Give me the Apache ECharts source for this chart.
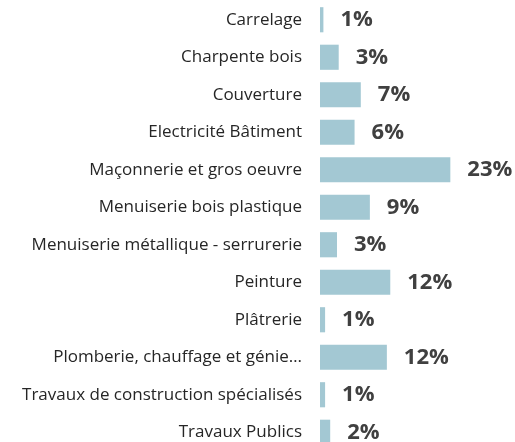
<!DOCTYPE html>
<html>
<head>
<meta charset="utf-8">
<script src="https://cdn.jsdelivr.net/npm/echarts@6/dist/echarts.min.js"></script>
<style>
  html, body { margin: 0; padding: 0; background: #fff; }
  #chart { width: 515px; height: 442px; }
</style>
</head>
<body>
<div id="chart"></div>
<script>
// Share of establishments by trade (percent)
const categories = [
  'Carrelage',
  'Charpente bois',
  'Couverture',
  'Electricité Bâtiment',
  'Maçonnerie et gros oeuvre',
  'Menuiserie bois plastique',
  'Menuiserie métallique - serrurerie',
  'Peinture',
  'Plâtrerie',
  'Plomberie, chauffage et génie climatique',
  'Travaux de construction spécialisés',
  'Travaux Publics'
];
const shares = [0.6, 3.3, 7.2, 6.1, 23.0, 8.8, 3.0, 12.4, 0.9, 11.8, 0.9, 1.8];

// Long trade names are cut after 29 characters
const shortName = v => v.length > 36 ? v.slice(0, 29).trimEnd() + '…' : v;

const chart = echarts.init(document.getElementById('chart'));
chart.setOption({
  animation: false,
  grid: {
    left: 320, top: 1, width: 170, height: 450,
    containLabel: false, outerBoundsMode: 'none'
  },
  xAxis: {
    type: 'value', min: 0, max: 30,
    show: false
  },
  yAxis: {
    type: 'category',
    inverse: true,
    data: categories,
    axisLine: { show: false },
    axisTick: { show: false },
    axisLabel: {
      margin: 18,
      fontFamily: 'Open Sans',
      fontSize: 17,
      color: '#262626',
      overflow: 'none',
      hideOverlap: false,
      interval: 0,
      formatter: shortName
    }
  },
  series: [{
    type: 'bar',
    data: shares,
    barWidth: '67%',
    itemStyle: { color: '#a3c8d3' },
    label: {
      show: true,
      position: 'right',
      distance: 17,
      fontFamily: 'Open Sans',
      fontWeight: 'bold',
      fontSize: 22,
      color: '#404040',
      formatter: p => Math.max(1, Math.round(p.value)) + '%'
    }
  }]
});
</script>
</body>
</html>
